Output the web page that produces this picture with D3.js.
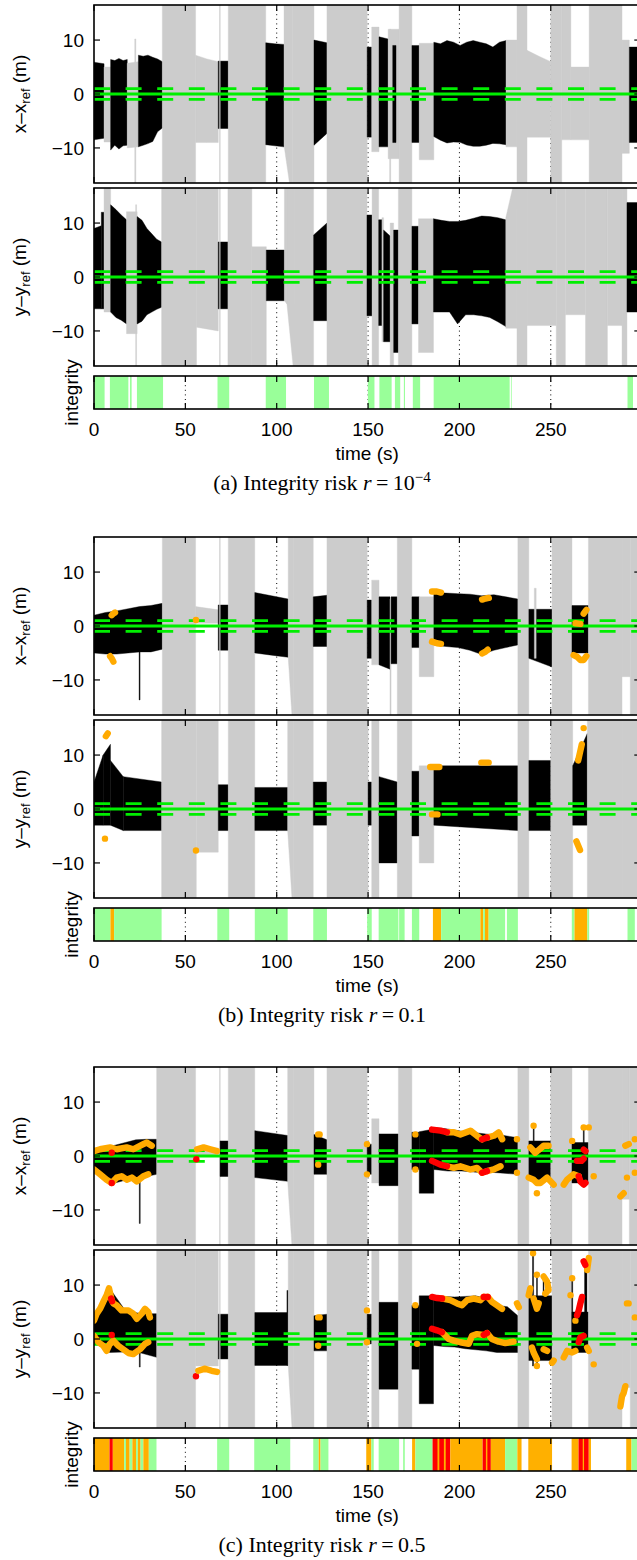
<!DOCTYPE html>
<html><head><meta charset="utf-8">
<script src="https://cdnjs.cloudflare.com/ajax/libs/d3/7.8.5/d3.min.js"></script>
<style>body{margin:0;background:#fff}svg{display:block}</style>
</head><body><svg id="c" width="637" height="1560"></svg>
<script>
const timeTicks=[0,50,100,150,200,250];
const errTicks=[-10,0,10];
const captionLetters=['(a)','(b)','(c)'];
const riskMain=['10','0.1','0.5'];
const riskSup=['\u22124','',''];
// bands: [t0,t1,code,top,bottom]; top/bottom = value or evenly spaced samples. k=black, g=gray
const aX=[[0,5.5,'k',[5.9,5.6],[-8.5,-8.2]],[5.5,9.1,'g',5,-8.9],[9.1,18.2,'k',[6.4,6.2,6.6,6.2,6.4],[-10.4,-9.5,-10.2,-9.6,-9.5]],[18.2,24.3,'g',[5.7,6],[-10,-9.8]],[22.3,22.9,'g',10.2,-20],[24.3,37.4,'k',[7.2,7,7.2,6.8,6.5,6],[-9.8,-9.5,-9.2,-8.8,-7,-6.3]],[37.4,55.6,'g',20,-20],[55.6,68,'g',[7.2,6.5,6],-9],[68,73.5,'k',6.1,-6.4],[68.7,69.1,'g',20,-20],[73.5,94,'g',20,-20],[94,104,'k',[9.5,9.3,9.2],[-9.4,-9.6,-9.8]],[104,108.5,'g',20,[-9.5,-20]],[108.5,120.4,'g',20,-20],[120.4,127.5,'k',[10,9.5],[-9.5,-7.3]],[127.5,149.5,'g',20,-20],[149.5,152,'k',8.7,-8],[152,156,'g',12.4,-10.7],[156,161,'k',[10.6,10.2],-9.8],[161,167,'g',12,-12],[161.8,162.4,'g',12,-20],[163.5,165.3,'k',9,-9],[167,174,'g',20,-20],[174,178,'k',9,-9],[178,186,'g',9.4,-12.2],[186,225.5,'k',[9.6,9.3,9.9,9.6,9.0,9.6,9.9,9.6,9.3,8.7,9.6,9.9],[-7.9,-9.1,-8.8,-9.7,-9.7,-9.1,-9.4]],[225.5,231.5,'g',10,-9.8],[231.5,237,'g',20,-20],[237,250,'g',[8.1,7,6],-8],[250,256,'g',20,-20],[256,261,'g',20,-8.5],[261,271,'g',5,-8.5],[271,289,'g',20,-20],[289,293,'g',10,-11],[293,299,'k',8.7,-9]];
const aY=[[0,4,'k',[9,9.5],-5.9],[4,5.5,'k',12,-5.9],[5.5,9.1,'g',20,-6.5],[9.1,17.8,'k',[13.4,12.5,11.5,10.6],[-6.5,-7.5,-8,-8.7]],[17.8,23.6,'g',12.1,-10.5],[22.8,23.3,'g',13.4,-20],[23.6,37,'k',[11.2,10.5,9,8,7,6.5],[-8.7,-8.2,-7,-6.5,-6,-5.6]],[37,56.1,'g',20,-20],[56.1,68,'g',20,[-9.3,-10]],[68,73.3,'k',6.5,-5.9],[68.7,69.1,'g',20,-20],[73.3,86.4,'g',20,-20],[86.4,94.3,'g',5.6,-20],[94.3,104.2,'k',5,-4.4],[104.2,105.6,'g',20,[-4.4,-5]],[105.6,110,'g',20,[-5,-20]],[110,120.2,'g',20,-20],[120.2,127.5,'k',[7.8,10],-8.1],[127.5,149.4,'g',20,-20],[149.4,152.2,'k',11.5,-7.2],[152.2,155.8,'g',20,-20],[155.8,157.6,'k',10.6,-9],[157.6,158.5,'g',11,-12],[158.5,162.1,'k',[8.7,7.6],-12],[162.1,164,'g',10,-20],[164,166.6,'k',8.7,-14],[166.6,174,'g',20,-20],[174,177.6,'k',9.4,-8.7],[177.6,185.8,'g',10.8,-14],[185.8,225.4,'k',[10.8,10.5,10.3,10.3,10.5,10.9,11.3,11.2,11.0,10.6],[-6.5,-6.5,-6.5,-8.7,-7,-7,-7.2,-7.5,-8.3,-9.2]],[225.4,231.5,'g',[11,20],-9.5],[231.5,237,'g',20,-20],[237,253,'g',20,-9],[253,258,'g',20,-20],[258,269,'g',20,-7],[269,281,'g',20,-20],[281,289,'g',20,-9],[289,291.7,'g',20,-20],[291.7,299,'k',13.8,-6.5]];
const bX=[[0,37.4,'k',[2,2.5,2.8,3.2,3.6,3.8,4.2],[-5,-5.2,-5.2,-5,-4.8,-4.8,-4.3]],[24.7,25.2,'k',3,-13.7],[37.4,55.6,'g',20,-20],[55.6,68,'g',[3.6,3],0.5],[68,73.5,'k',3.9,-4.5],[68.7,69.1,'g',20,-20],[73.5,88,'g',20,-20],[88,106.3,'k',[6.2,5.6,5],[-5,-5.4,-5.8]],[106.3,109,'g',20,[-5.8,-20]],[109,120,'g',20,-20],[120,127.5,'k',[5.4,5.7],-3.8],[127.5,149.5,'g',20,-20],[149.5,152,'k',4.8,-6],[152,156,'g',8.5,-7.2],[156,162,'k',5.4,[-7.2,-8]],[162,162.6,'g',5,-20],[162.6,166,'k',5.4,-7],[166,174,'g',20,-20],[174,178,'k',5.4,-4],[178,186,'g',5.4,-9.4],[186,232,'k',[6.2,6.1,6,5.9,5.6,5.8,5.4,5],[-3.5,-3.8,-4,-4.5,-5.3,-4.5,-4,-3.5]],[232,238,'g',20,-20],[238,250.7,'k',3.1,[-6,-7.6]],[241,242,'g',7,-6],[250.7,261.6,'g',20,-20],[261.6,270.6,'k',3.8,-5],[270.6,289,'g',20,-20],[289,293.5,'g',20,-9.4],[293.5,299,'g',20,-20]];
const bY=[[0,5,'k',[5,10],-3],[5,9,'k',[10,12],-3],[9,16,'k',[9,6],[-3,-4]],[16,37,'k',[6,5],-4],[37,56,'g',20,-20],[56,68,'g',20,-8],[68,73.5,'k',4.5,-4],[73.5,88,'g',20,-20],[88,106,'k',4,-4],[106,109,'g',20,[-4,-20]],[109,120,'g',20,-20],[120,127.5,'k',5,-3],[127.5,150,'g',20,-20],[150,152,'k',5,-3],[152,156,'g',20,-20],[156,166,'k',[6,5],-10],[166,174,'g',20,-20],[174,178,'k',7,-5],[178,186,'g',8,-10],[186,232,'k',8,[-3,-4]],[232,238,'g',20,-20],[238,250,'k',9,-4],[250,262,'g',20,-20],[262,270,'k',[8,14],-3],[270,289,'g',20,-20],[289,299,'g',20,-20]];
const cX=[[0,34.3,'k',[1,1.5,2,2.5,3,3.1,3.1],[-2.5,-4,-5,-4.5,-4,-3.8,-3.4]],[24.8,25.3,'k',2,-12.5],[34.3,55.6,'g',20,-20],[55.6,68,'g',1.5,0],[68.7,69.1,'g',20,-20],[69,73.5,'k',2.8,-3.8],[73.5,88,'g',20,-20],[88,106,'k',[4.7,3.8],[-4,-4.7]],[106,109,'g',20,[-4.7,-20]],[109,120.4,'g',20,-20],[120.4,127.5,'k',[4,3],-3.4],[127.5,149.5,'g',20,-20],[149.5,152,'k',2.2,-3.4],[152,156,'g',6.9,-5],[156,166.6,'k',4.1,-5.5],[166.6,174,'g',20,-20],[174,178,'k',4.4,-2.5],[178,186,'k',[4.5,5],-6.9],[186,232,'k',[5.3,5,4.6,4.3,4,3.8,3.4],[-2.5,-2.8,-2.8,-3,-3,-3.2,-3.4]],[232,238,'g',20,-20],[238,250,'k',2.8,-4.4],[240.4,240.9,'k',5.6,-4],[250,261.6,'g',20,-20],[261.6,270.6,'k',2.5,-5],[267.8,268.3,'k',5.3,-5],[270.6,289,'g',20,-20],[289,293,'g',20,-8],[293,299,'g',20,-20]];
const cY=[[0,34.3,'k',[3.4,9.4,5.3,4.7,4.7],[-0.6,-2.5,-2.4,-2.6,-3.4]],[24.8,25.3,'k',3,-5.2],[34.3,55.6,'g',20,-20],[55.6,68,'g',20,-5],[68,73.5,'k',4.6,-3.7],[68.7,69.1,'g',20,-20],[73.5,88,'g',20,-20],[88,106,'k',4.9,-4.9],[105.6,106.3,'k',9,-4.9],[106.3,109,'g',20,[-4.9,-20]],[109,120.4,'g',20,-20],[120.4,127.5,'k',[4.3,4.6],-2.2],[127.5,149.5,'g',20,-20],[149.5,152,'k',4.6,-0.9],[152,156,'g',20,-20],[156,166.6,'k',6.8,-9.3],[166.6,174,'g',20,-20],[174,178,'k',6.2,-5.6],[178,185.8,'k',8,-12],[185.8,232,'k',[8,7.9,7.8,7.9,8,7.5,6.2,6,4.3],[-1.2,-1.4,-1.5,-1.8,-2,-2.2,-2.5,-2.5,-2.5]],[232,238,'g',20,-20],[238,250.7,'k',8,-4],[240,240.6,'k',16,-5],[242.2,242.7,'k',12,-5],[245.8,246.3,'k',11.6,-2],[250.7,261.6,'g',20,-20],[261.6,270.6,'k',5,-2.5],[261.5,262,'k',11,-2.5],[268.5,269.8,'k',14.4,-2],[270.6,289,'g',20,-20],[289,293.5,'g',20,-9],[293.5,299,'g',20,-20]];
// integrity segments: G available, O warning, R failure
const aInt=[[0,5.8,'G'],[8.7,18.8,'G'],[19.7,20.6,'G'],[23.5,37.8,'G'],[67.6,74,'G'],[94,105.1,'G'],[120.4,128.6,'G'],[149.9,153.5,'G'],[156.2,162.9,'G'],[164.7,167.6,'G'],[169.6,170.2,'G'],[174.5,178.5,'G'],[185.9,227.5,'G'],[228.2,228.6,'G'],[292,295,'G']];
const bInt=[[0,9,'G'],[9,11,'O'],[11,37,'G'],[67.5,74,'G'],[88,106,'G'],[120,127.5,'G'],[149.5,152,'G'],[155.8,166.6,'G'],[167,170,'G'],[174,178,'G'],[185.5,190,'O'],[190,211.5,'G'],[211.5,213,'O'],[213,214,'G'],[214,216,'O'],[216,225,'G'],[226,232,'G'],[261.5,263,'G'],[263,270,'O'],[270,271,'G'],[292,296,'G']];
const cInt=[[0,8.5,'O'],[8.5,10.3,'R'],[10.3,16.5,'O'],[16.5,17.5,'G'],[17.5,19.5,'O'],[19.5,21,'G'],[21,23,'O'],[23,24,'G'],[24,25.5,'O'],[25.5,27,'G'],[27,30,'O'],[30,34.2,'G'],[67.4,74,'G'],[87.7,107.4,'G'],[120,123,'G'],[123,124,'O'],[124,128.3,'G'],[149,151.8,'O'],[151.8,153.1,'G'],[155.8,167,'G'],[169.2,170.1,'G'],[174.1,175.9,'O'],[175.9,185.3,'G'],[185.3,195,'R'],[188,189,'O'],[191.5,192.5,'O'],[195,212.7,'O'],[212.7,217.2,'R'],[214.5,215.3,'O'],[217.2,225,'O'],[225,231.7,'G'],[231.7,234,'O'],[237.7,250.7,'O'],[261.4,265.2,'O'],[265.2,270.8,'R'],[267.5,268.2,'O'],[270.8,272,'O'],[291.3,294.2,'O'],[294.2,299,'G']];
// dot chains: [code, [[t,v],...]]  o=orange, r=red
const bDX=[['o',[[9.7,2],[10.6,2.3],[11.5,2.5]]],['o',[[8.8,-5.6],[9.7,-6],[10.6,-6.6]]],['o',[[55.8,1.1]]],['o',[[185,6.4],[187.7,6.4],[189.9,6.2]]],['o',[[185,-2.9],[187.7,-3.2],[189.9,-3.3]]],['o',[[212.4,4.9],[214.3,5.1],[216.1,5.2]]],['o',[[212.4,-5.1],[214.3,-4.75],[215.5,-4.4]]],['o',[[262.5,-5.4],[264.4,-5.7],[266.2,-6.3],[268,-6.3],[269.5,-5.6]]],['o',[[263.5,0.5],[266.2,0.4]]],['o',[[268,2.3],[269.5,3]]]];
const bDY=[['o',[[6.5,13.5],[7.5,14]]],['o',[[6,-5.5]]],['o',[[55.8,-7.7]]],['o',[[184,7.8],[189,7.8]]],['o',[[185,-1],[188,-1]]],['o',[[212,8.6],[216,8.6]]],['o',[[265,9],[266,10.5],[267,12]]],['o',[[268,15]]],['o',[[264,-6],[266,-7.6]]]];
const cDX=[['o',[[0,0.9],[3.3,1.25],[8.8,1.6],[12.4,1.25],[17.9,1.6],[21.5,1.25],[27,2.2],[28.8,2.5],[31.6,1.9]]],['o',[[0,-2.5],[3.3,-3.4],[6.9,-4.4],[9.7,-5],[12.4,-4],[15.1,-3.75],[17.9,-4.4],[20.7,-4],[23.4,-4.7],[27,-3.75],[29.7,-3.4]]],['r',[[9.7,0.6]]],['r',[[9.7,-5]]],['o',[[56.4,1.25],[60,1.6],[63.7,1.25],[67.3,0.9]]],['r',[[56,-0.6]]],['o',[[122.7,4],[123.5,4]]],['o',[[122.7,-1.6]]],['o',[[149.4,2.2]]],['o',[[149.4,-3.4]]],['o',[[175.9,4]]],['o',[[175.9,-2.5]]],['o',[[193.2,4.4],[196.9,4.4],[200.5,4],[206,4.7],[209.6,3.75],[212.4,3.1]]],['o',[[215.1,3.4],[218.8,3.75],[221.5,4.4],[223.4,3.1]]],['r',[[185,4.9],[189.6,4.7],[193.2,4.4]]],['r',[[212.4,3.1],[215.1,3.4]]],['o',[[193.2,-1.9],[196.9,-2.2],[200.5,-1.9],[206,-2.5],[209.6,-2.2],[212.4,-3.1]]],['o',[[215.1,-2.8],[218.8,-2.5],[222.5,-1.9]]],['r',[[185,-0.9],[189.6,-1.6],[193.2,-1.9]]],['r',[[212.4,-3.1],[215.1,-2.8]]],['o',[[231.5,3.1]]],['o',[[231.5,-3.1]]],['o',[[240.6,5.6]]],['o',[[238.8,1.6],[241.5,0.6],[243,1],[246.1,1.9],[248.8,1.9]]],['o',[[237.9,-4],[240.6,-4.4],[242.4,-5],[244.3,-5],[248,-4],[251.6,-5.3]]],['o',[[242.4,-6.9]]],['o',[[261.7,2.8]]],['o',[[257.1,-5.3],[258.9,-4.4],[262.5,-3.4],[265.3,-3.75]]],['r',[[265.3,-3.75],[266.2,-4.7],[268,-5.3],[269,-5]]],['r',[[264.3,-0.9],[266.8,-0.9],[268,-0.5]]],['r',[[268,1.2],[269,0.9]]],['o',[[268,5.3]]],['o',[[270.8,5.3]]],['o',[[273.5,-3.75]]],['o',[[288.1,-7.5],[289.9,-6.9]]],['o',[[290.8,1.9],[292.7,2.2]]],['o',[[291.7,-4]]],['o',[[296,3.1]]],['o',[[296,-3.1]]]];
const cDY=[['o',[[0,3.4],[1.5,4.7],[3.3,5.6],[5.1,6.9],[6.9,8.1],[8.2,9.4],[9.7,7.2],[10.6,6.6],[12.4,6.25],[15.1,5.3],[18.8,5.3],[21.5,4.7],[23.4,3.75],[26.1,4.7],[27.9,5.6],[29.7,5],[30.6,4]]],['o',[[0,0.6],[2.4,-0.6],[5.1,-1.25],[6.9,-2.2],[8.5,-1],[10.6,-0.3],[13.3,-1.25],[16,-1.9],[18.8,-2.6],[21.5,-2.8],[25.2,-1.9],[27.9,-0.9],[29.7,-0.6]]],['r',[[9.4,7.5],[9.9,7]]],['r',[[9.7,0.75]]],['r',[[55.8,-6.9]]],['o',[[57.1,-5.9],[60.8,-5.5],[64.4,-5.9],[67.3,-6.1]]],['o',[[122.7,4],[123.5,4]]],['o',[[122.7,-1.25]]],['o',[[149.4,5.3]]],['o',[[149.4,-0.6]]],['o',[[175.9,6.25]]],['o',[[176.8,-0.9]]],['o',[[190.5,7.5],[192.3,7.4],[195,7.2],[198.7,6.6],[201.4,6.25],[204.2,7.2],[207.8,7.5],[211.5,7.2],[213.3,7.8]]],['o',[[215.5,7.8],[217.8,6.9],[220.6,6.25],[223.3,5.6]]],['r',[[185,7.8],[187.7,7.6],[190.5,7.5]]],['r',[[213.3,7.8],[215.5,7.8]]],['o',[[190.5,1.25],[194.1,0],[196.9,-0.3],[200.5,-0.6],[205.1,-0.9],[206.9,0.6],[209.6,0.9],[213.3,0.75]]],['o',[[215.1,1.1],[217.8,0],[221.5,-0.5],[225.1,-0.75],[229.7,-0.5]]],['r',[[185,1.9],[187.7,1.6],[190.5,1.25]]],['r',[[213.3,0.75],[215.1,1.1]]],['o',[[231.5,6.6],[232.5,5.9]]],['o',[[240.3,15.9]]],['o',[[242.4,11.9]]],['o',[[246.1,11.6],[248,10.6],[248.8,9.1],[247,8.4]]],['o',[[237.9,8.1],[238.8,9.4]]],['o',[[240.6,7.5],[242.4,5.6],[243.4,6.6]]],['o',[[239.7,-1.6],[240.6,-2.5],[242.4,-3.75]]],['o',[[242.4,-5]]],['o',[[246.1,-1.9],[248,-2.2]]],['o',[[250.7,-4.4],[251.6,-4]]],['o',[[261.7,11.25]]],['o',[[260.8,8.1]]],['o',[[263.5,3.4]]],['r',[[267.1,7.8],[266.2,6.6],[265.3,5.3],[264.4,4.4]]],['o',[[270.8,15],[269.9,12.8]]],['r',[[268,14.4],[268.9,13.75]]],['o',[[269.9,-1.6],[270.8,-2.2]]],['r',[[265.3,-0.6],[266.2,0.3],[268,0.6]]],['o',[[257.1,-3.4],[258.9,-2.2],[261.7,-2.5],[263.5,-2.2]]],['o',[[273.5,-4.7]]],['o',[[288.1,-12.5],[289,-10.6],[289.9,-10],[290.8,-8.75]]],['o',[[291.7,6.6],[292.6,6.6]]],['o',[[296,4]]]];

const subs=[{bx:aX,by:aY,dx:[],dy:[],integ:aInt},{bx:bX,by:bY,dx:bDX,dy:bDY,integ:bInt},{bx:cX,by:cY,dx:cDX,dy:cDY,integ:cInt}];
const tops=[5,537,1067];
const COL={k:'#000000',g:'#cccccc',o:'#ffaa00',r:'#ff0000',G:'#99ff99',O:'#ffb000',R:'#ff0000'};
const FONT="'Liberation Sans', Arial, Helvetica, sans-serif";
const SERIF="'Liberation Serif', 'Times New Roman', serif";
const FS=19;

const svg=d3.select('#c');
const x=d3.scaleLinear().domain([0,299]).range([94,640.3]);
const PH=178;
let clipN=0;

function samples(b){
  const tp=Array.isArray(b[3])?b[3]:[b[3],b[3]];
  const bt=Array.isArray(b[4])?b[4]:[b[4],b[4]];
  const n=Math.max(tp.length,bt.length);
  const at=(arr,k)=>{ // value at fraction k/(n-1) of the band, linear over arr samples
    const f=k/(n-1)*(arr.length-1); const i=Math.min(Math.floor(f),arr.length-2); const r=f-i;
    return arr[i]*(1-r)+arr[i+1]*r; };
  const pts=[];
  for(let k=0;k<n;k++) pts.push([b[0]+(b[1]-b[0])*k/(n-1),at(tp,k),at(bt,k)]);
  return pts;
}
function frame(g,top,h,yTicks,y){
  g.append('rect').attr('x',x(0)).attr('y',top).attr('width',x(299)-x(0)).attr('height',h)
   .attr('fill','none').attr('stroke','#000').attr('stroke-width',1.6);
  timeTicks.forEach(t=>{
    g.append('line').attr('x1',x(t)).attr('x2',x(t)).attr('y1',top+h).attr('y2',top+h-6).attr('stroke','#000').attr('stroke-width',1.2);
    g.append('line').attr('x1',x(t)).attr('x2',x(t)).attr('y1',top).attr('y2',top+6).attr('stroke','#000').attr('stroke-width',1.2);
  });
  if(yTicks){
    yTicks.forEach(v=>{
      g.append('line').attr('x1',x(0)).attr('x2',x(0)+6).attr('y1',y(v)).attr('y2',y(v)).attr('stroke','#000').attr('stroke-width',1.2);
      g.append('line').attr('x1',x(299)).attr('x2',x(299)-6).attr('y1',y(v)).attr('y2',y(v)).attr('stroke','#000').attr('stroke-width',1.2);
      g.append('text').attr('x',84).attr('y',y(v)+6.8).attr('text-anchor','end')
       .attr('font-family',FONT).attr('font-size',FS).text(v<0?'\u2212'+Math.abs(v):String(v));
    });
  }
}
function grid(g,top,h){
  timeTicks.filter(t=>t>0).forEach(t=>{
    g.append('line').attr('x1',x(t)).attr('x2',x(t)).attr('y1',top).attr('y2',top+h)
     .attr('stroke','#000').attr('stroke-width',1).attr('stroke-dasharray','1,3.6');
  });
}
function panel(top,bands,chains,sym){
  const y=d3.scaleLinear().domain([-16.5,16.5]).range([top+PH,top]);
  const id='cp'+(clipN++);
  svg.append('clipPath').attr('id',id).append('rect').attr('x',x(0)).attr('y',top).attr('width',x(299)-x(0)).attr('height',PH);
  const g=svg.append('g');
  const gc=g.append('g').attr('clip-path',`url(#${id})`);
  grid(gc,top,PH);
  const area=d3.area().x(d=>x(d[0])).y0(d=>y(d[2])).y1(d=>y(d[1]));
  bands.forEach(b=>{
    gc.append('path').attr('d',area(samples(b)))
      .attr('fill',COL[b[2]]).attr('stroke',COL[b[2]]).attr('stroke-width',0.4);
  });
  gc.append('line').attr('x1',x(0)).attr('x2',x(299)).attr('y1',y(0)).attr('y2',y(0)).attr('stroke','#00ee00').attr('stroke-width',3);
  [-1,1].forEach(v=>gc.append('line').attr('x1',x(0)).attr('x2',x(299)).attr('y1',y(v)).attr('y2',y(v))
     .attr('stroke','#00ee00').attr('stroke-width',2.8).attr('stroke-dasharray','16,15.6'));
  const line=d3.line().x(d=>x(d[0])).y(d=>y(d[1]));
  chains.forEach(c=>{
    if(c[1].length===1){
      gc.append('circle').attr('cx',x(c[1][0][0])).attr('cy',y(c[1][0][1])).attr('r',3.2).attr('fill',COL[c[0]]);
    } else {
      gc.append('path').attr('d',line(c[1])).attr('fill','none').attr('stroke',COL[c[0]])
        .attr('stroke-width',6.4).attr('stroke-linecap','round').attr('stroke-linejoin','round');
    }
  });
  frame(g,top,PH,errTicks,y);
  const lab=g.append('text').attr('transform',`translate(26,${top+PH/2}) rotate(-90)`)
    .attr('text-anchor','middle').attr('font-family',FONT).attr('font-size',FS);
  lab.append('tspan').text(sym+'\u2013'+sym);
  lab.append('tspan').attr('dy',4).attr('font-size',13).text('ref');
  lab.append('tspan').attr('dy',-4).text(' (m)');
}
function integ(top,segs,i){
  const h=33;
  const g=svg.append('g');
  grid(g,top,h);
  segs.forEach(s=>{
    g.append('rect').attr('x',x(s[0])).attr('y',top).attr('width',Math.max(0.6,x(s[1])-x(s[0]))).attr('height',h)
     .attr('fill',COL[s[2]]);
  });
  frame(g,top,h,null,null);
  g.append('text').attr('transform',`translate(77.5,${top+h/2}) rotate(-90)`).attr('text-anchor','middle')
   .attr('font-family',FONT).attr('font-size',FS).text('integrity');
  timeTicks.forEach(t=>{
    g.append('text').attr('x',x(t)).attr('y',top+60).attr('text-anchor','middle')
     .attr('font-family',FONT).attr('font-size',FS).text(String(t));
  });
  g.append('text').attr('x',(x(0)+x(299))/2).attr('y',top+84).attr('text-anchor','middle')
   .attr('font-family',FONT).attr('font-size',FS).text('time (s)');
  const cap=g.append('text').attr('x',322).attr('y',top+114).attr('text-anchor','middle')
   .attr('font-family',SERIF).attr('font-size',22);
  cap.append('tspan').text(captionLetters[i]+' Integrity risk ');
  cap.append('tspan').attr('font-style','italic').text('r');
  cap.append('tspan').text('\u2009=\u2009'+riskMain[i]);
  if(riskSup[i]) cap.append('tspan').attr('dy',-8).attr('font-size',15).text(riskSup[i]);
}
subs.forEach((s,i)=>{
  const T=tops[i];
  panel(T,s.bx,s.dx,'x');
  panel(T+183,s.by,s.dy,'y');
  integ(T+371,s.integ,i);
});
</script></body></html>
